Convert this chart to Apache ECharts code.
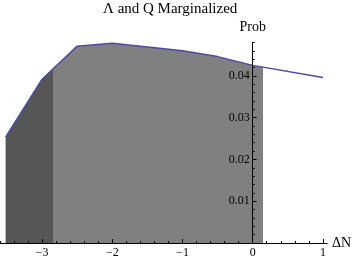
<!DOCTYPE html>
<html>
<head>
<meta charset="utf-8">
<script src="https://cdn.jsdelivr.net/npm/echarts@6/dist/echarts.min.js"></script>
<style>html,body{margin:0;padding:0;background:#fff}#c{width:360px;height:260px}</style>
</head>
<body>
<div id="c"></div>
<script>
// Data
var deltaN = [-3.52, -3, -2.5, -2, -1.5, -1, -0.5, 0, 1];
var prob = [0.0253, 0.0392, 0.0471, 0.0478, 0.0469, 0.0460, 0.0446, 0.0425, 0.0396];
var shadeBreaks = [-2.85, 0.15];          // dark region up to first, light region up to second
var xMajorTicks = [-4, -3, -2, -1, 0, 1];
var xTickLabels = [-3, -2, -1, 0, 1];
var yTickLabels = [0.01, 0.02, 0.03, 0.04];
var titleText = 'Λ and Q Marginalized';
var xName = 'ΔN';
var yName = 'Prob';

var xMin = -4, xMax = 1.06, yMin = 0, yMax = 0.048;
var xMinor = [], yMinor = [], yMajor = [0, 0.01, 0.02, 0.03, 0.04];
for (var i = -20; i <= 5; i++) xMinor.push(+(i * 0.2).toFixed(2));
for (var j = 0; j <= 24; j++) yMinor.push(+(j * 0.002).toFixed(3));

var pts = deltaN.map(function (x, k) { return [x, prob[k]]; });
var serif = 'Liberation Serif, Times New Roman, serif';
var fmtX = function (v) { return String(Math.round(v)).replace('-', '\u2212'); };

var gridLeft = -28.1, gridWidth = 355.2;
var chart = echarts.init(document.getElementById('c'), null, {renderer: 'canvas'});
var grid = {left: gridLeft, top: 42.4, width: gridWidth, height: 200.6, containLabel: false, outerBoundsMode: 'none'};
// pixel distance from grid left edge to x = 0
var zeroOffset = (0 - xMin) / (xMax - xMin) * gridWidth;

function xAxisBase(extra) {
  return Object.assign({
    type: 'value', min: xMin, max: xMax, position: 'bottom', z: 5,
    splitLine: {show: false},
    axisLine: {onZero: true, lineStyle: {color: '#000', width: 1}}
  }, extra);
}
function yAxisBase(extra) {
  return Object.assign({
    type: 'value', min: yMin, max: yMax, position: 'left', z: 5,
    splitLine: {show: false},
    axisLine: {onZero: true, lineStyle: {color: '#000', width: 1}}
  }, extra);
}

chart.setOption({
  animation: false,
  title: {text: titleText, left: 98, top: -3,
    textStyle: {fontFamily: serif, fontSize: 15, fontWeight: 'normal', color: '#000'}},
  grid: grid,
  xAxis: [
    xAxisBase({
      name: xName, nameLocation: 'end', nameGap: 5,
      nameTextStyle: {fontFamily: serif, fontSize: 14, color: '#000'},
      axisTick: {show: true, inside: true, length: 2, customValues: xMinor, lineStyle: {color: '#000'}},
      axisLabel: {show: true, customValues: xTickLabels, formatter: fmtX, margin: 4,
        fontFamily: serif, fontSize: 12, color: '#000'}
    }),
    xAxisBase({
      axisLine: {show: false, onZero: true},
      axisTick: {show: true, inside: true, length: 4, customValues: xMajorTicks, lineStyle: {color: '#000'}},
      axisLabel: {show: false}
    })
  ],
  yAxis: [
    yAxisBase({
      name: yName, nameLocation: 'end', nameGap: 8,
      nameTextStyle: {fontFamily: serif, fontSize: 14, color: '#000'},
      axisTick: {show: true, inside: true, length: 2, customValues: yMinor, lineStyle: {color: '#000'}},
      axisLabel: {show: false}
    }),
    yAxisBase({
      axisLine: {show: false, onZero: true},
      axisTick: {show: true, inside: true, length: 4, customValues: yMajor, lineStyle: {color: '#000'}},
      axisLabel: {show: false}
    }),
    yAxisBase({
      axisLine: {show: false, onZero: false},
      offset: -zeroOffset,
      axisTick: {show: false},
      axisLabel: {show: true, customValues: yTickLabels, formatter: function (v) { return v.toFixed(2); },
        margin: 3, fontFamily: serif, fontSize: 12, color: '#000'}
    })
  ],
  visualMap: {
    type: 'piecewise', show: false, dimension: 0, seriesIndex: 0,
    pieces: [
      {lt: shadeBreaks[0], color: '#565656'},
      {gte: shadeBreaks[0], lte: shadeBreaks[1], color: '#808080'}
    ],
    outOfRange: {color: 'rgba(255,255,255,0)'}
  },
  series: [
    {
      type: 'line', data: pts, xAxisIndex: 0, yAxisIndex: 0,
      showSymbol: false, symbol: 'none', silent: true,
      lineStyle: {width: 0, opacity: 0},
      areaStyle: {opacity: 1, origin: 'start'}
    },
    {
      type: 'line', data: pts, xAxisIndex: 0, yAxisIndex: 0,
      showSymbol: false, symbol: 'none', silent: true, z: 3,
      lineStyle: {width: 1.5, color: '#4a4aa0'}
    }
  ]
});
</script>
</body>
</html>
